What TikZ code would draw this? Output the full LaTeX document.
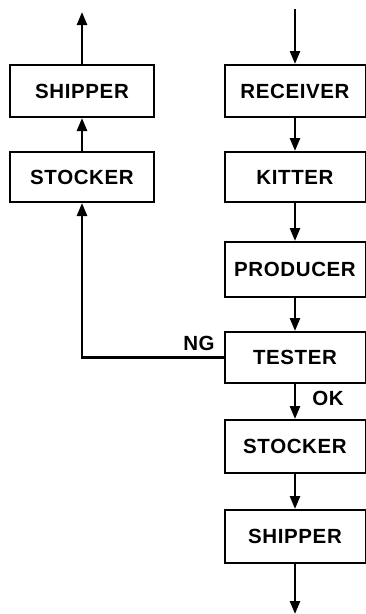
\documentclass[tikz,border=0pt]{standalone}
\usepackage{fontspec}
\setmainfont{Liberation Sans}[LetterSpace=3]
\usetikzlibrary{arrows.meta}
\begin{document}
\begin{tikzpicture}[x=1pt,y=-1pt,
  box/.style={draw,line width=2pt,minimum width=141pt,inner sep=0pt,
    font=\fontsize{20.5}{23}\selectfont\bfseries},
  lbox/.style={box,minimum width=144pt},
  flow/.style={line width=2.6pt,-{Triangle[length=13pt,width=10pt]}},
  lab/.style={font=\fontsize{20.5}{23}\selectfont\bfseries,inner sep=0pt}]
\useasboundingbox (0,0) rectangle (366,614);
\node[lbox,minimum height=52pt] (lship) at (82,91) {SHIPPER};
\node[lbox,minimum height=50pt] (lstock) at (82,177) {STOCKER};
\node[box,minimum height=52pt] (recv) at (295,91) {RECEIVER};
\node[box,minimum height=50pt] (kit) at (295,177) {KITTER};
\node[box,minimum height=55pt] (prod) at (295,269.5) {PRODUCER};
\node[box,minimum height=51pt] (test) at (295,357.5) {TESTER};
\node[box,minimum height=53pt] (rstock) at (295,446.5) {STOCKER};
\node[box,minimum height=53pt] (rship) at (295,536.5) {SHIPPER};
\coordinate (intop) at (295,9);
\coordinate (outbot) at (295,614);
\coordinate (ltop) at (82,12);
\node[lab] (ng) at (199,343) {NG};
\node[lab] (ok) at (328,398) {OK};
\draw[flow] (intop) -- (recv.north);
\draw[flow] (recv) -- (kit);
\draw[flow] (kit) -- (prod);
\draw[flow] (prod) -- (test);
\draw[flow] (test) -- (rstock);
\draw[flow] (rstock) -- (rship);
\draw[flow] (rship.south) -- (outbot);
\draw[flow] (test.west) -| (lstock.south);
\draw[flow] (lstock) -- (lship);
\draw[flow] (lship.north) -- (ltop);
\end{tikzpicture}
\end{document}
